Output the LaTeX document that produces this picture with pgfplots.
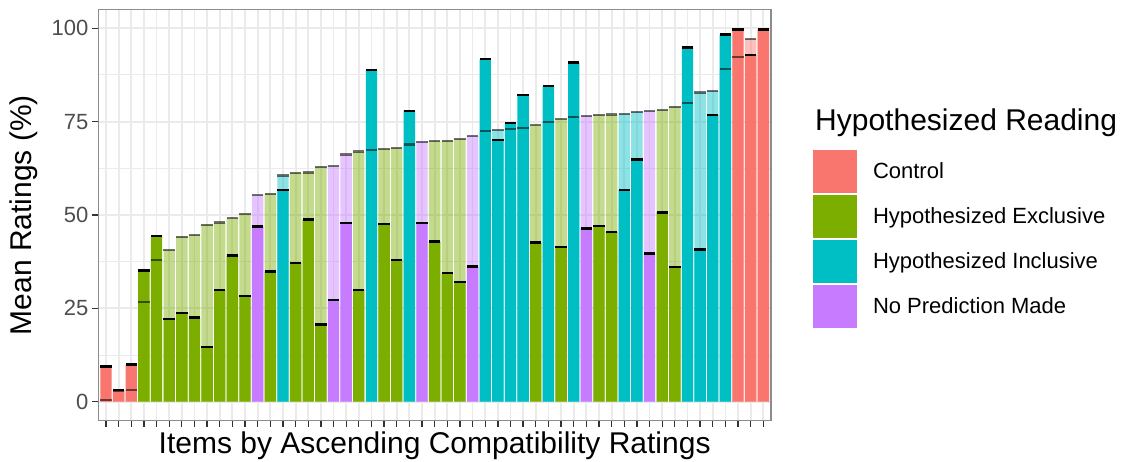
\documentclass[border=0pt]{standalone}
\usepackage{fontspec}
\setmainfont{Liberation Sans}
\usepackage{pgfplots}
\usepackage{pgfplotstable}
\pgfplotsset{compat=1.18}
\definecolor{cR}{HTML}{F8766D}
\definecolor{cG}{HTML}{7CAE00}
\definecolor{cC}{HTML}{00BFC4}
\definecolor{cP}{HTML}{C77CFF}
\definecolor{g92}{HTML}{EBEBEB}
\definecolor{g30}{HTML}{4D4D4D}
\definecolor{g20}{HTML}{333333}

% x = item rank, C = compatibility rating (light bar), T = rating for hypothesized reading (solid bar)
\pgfplotstableread{
x C T
1 0.4 9.4
2 2.9 3.2
3 3.1 10.0
51 92.4 99.7
52 97.1 92.9
53 99.6 99.7
}\ctrl
\pgfplotstableread{
x C T
4 26.8 35.1
5 37.9 44.4
6 40.6 22.1
7 44.2 23.7
8 44.6 22.5
9 47.4 14.6
10 48.0 29.9
11 49.1 39.2
12 50.3 28.3
14 55.7 34.9
16 61.3 37.1
17 61.4 48.8
18 62.9 20.7
21 67.0 29.9
23 67.7 47.6
24 68.0 37.9
27 69.8 42.9
28 69.9 34.4
29 70.4 32.0
35 74.0 42.6
37 75.6 41.5
40 76.8 47.1
41 76.9 45.4
45 78.1 50.7
46 79.0 36.0
}\excl
\pgfplotstableread{
x C T
15 60.6 56.7
22 67.4 88.8
25 68.9 77.9
31 72.4 91.7
32 72.8 70.1
33 73.1 74.6
34 73.4 82.1
36 75.0 84.6
38 76.3 90.8
42 77.1 56.7
43 77.6 64.9
47 79.9 94.9
48 82.8 40.8
49 83.2 76.8
50 89.0 98.3
}\incl
\pgfplotstableread{
x C T
13 55.3 46.9
19 63.1 27.2
20 66.2 47.9
26 69.6 47.9
30 71.2 36.2
39 76.5 46.4
44 77.8 39.7
}\nopred

\pgfplotsset{
  lightbar/.style={ybar, bar width=0.9, bar shift=0pt, draw=none, fill=#1, fill opacity=0.45, forget plot},
  solidbar/.style={ybar, bar width=0.9, bar shift=0pt, draw=none, fill=#1, forget plot},
  cmark/.style={only marks, mark=-, mark size=5.69pt, mark options={line width=2.2pt, draw=black, draw opacity=0.55}, forget plot},
  tmark/.style={only marks, mark=-, mark size=5.69pt, mark options={line width=2.4pt, draw=black}, forget plot},
}

\begin{document}
\begin{tikzpicture}
\begin{axis}[
  name=ax,
  scale only axis, width=672.5pt, height=410.8pt,
  xmin=0.4, xmax=53.6, ymin=-5, ymax=105,
  enlargelimits=false, clip=false,
  xtick={1,...,53}, xticklabels={},
  ytick={0,25,50,75,100},
  minor ytick={12.5,37.5,62.5,87.5},
  xmajorgrids, ymajorgrids, yminorgrids,
  major grid style={color=g92, line width=1.8pt},
  minor grid style={color=g92, line width=1.0pt},
  tick align=outside, tick pos=lower,
  major tick length=6.6pt, minor tick length=0pt,
  tick style={color=g20, line width=1.3pt},
  axis line style={color=black!45, line width=1.3pt},
  /pgf/number format/assume math mode=true,
  yticklabel style={font=\fontsize{22}{26}\selectfont, color=g30},
  ylabel={Mean Ratings (\%)},
  ylabel style={font=\fontsize{30}{36}\selectfont, at={(axis description cs:-0.1106,0.5)}, anchor=center},
  xlabel={Items by Ascending Compatibility Ratings},
  xlabel style={font=\fontsize{30}{36}\selectfont, at={(axis description cs:0.5,0)}, anchor=base, yshift=-33.5pt},
  legend image code/.code={\fill[#1] (0pt,-21.25pt) rectangle (44pt,21.25pt);},
  legend cell align=left,
  legend style={draw=none, fill=none, inner sep=0pt, outer sep=0pt,
    at={(axis description cs:1.0626,0.6582)}, anchor=north west,
    row sep=2.5pt, font=\fontsize{22}{26}\selectfont,
    nodes={inner sep=0pt},
    /tikz/every odd column/.append style={column sep=16pt}},
]
% light (compatibility) bars
\addplot[lightbar=cR] table[x=x,y=C]{\ctrl};
\addplot[lightbar=cG] table[x=x,y=C]{\excl};
\addplot[lightbar=cC] table[x=x,y=C]{\incl};
\addplot[lightbar=cP] table[x=x,y=C]{\nopred};
% solid bars
\addplot[solidbar=cR] table[x=x,y=T]{\ctrl};
\addplot[solidbar=cG] table[x=x,y=T]{\excl};
\addplot[solidbar=cC] table[x=x,y=T]{\incl};
\addplot[solidbar=cP] table[x=x,y=T]{\nopred};
% marks
\addplot[cmark] table[x=x,y=C]{\ctrl};
\addplot[cmark] table[x=x,y=C]{\excl};
\addplot[cmark] table[x=x,y=C]{\incl};
\addplot[cmark] table[x=x,y=C]{\nopred};
\addplot[tmark] table[x=x,y=T]{\ctrl};
\addplot[tmark] table[x=x,y=T]{\excl};
\addplot[tmark] table[x=x,y=T]{\incl};
\addplot[tmark] table[x=x,y=T]{\nopred};
% legend
\addlegendimage{fill=cR, draw=none}\addlegendentry{Control}
\addlegendimage{fill=cG, draw=none}\addlegendentry{Hypothesized Exclusive}
\addlegendimage{fill=cC, draw=none}\addlegendentry{Hypothesized Inclusive}
\addlegendimage{fill=cP, draw=none}\addlegendentry{No Prediction Made}
\node[anchor=base west, font=\fontsize{30}{36}\selectfont, inner sep=0pt] at (axis description cs:1.0656,0.7069) {Hypothesized Reading};
\end{axis}
\pgfresetboundingbox
\path (ax.south west) ++(-98.4pt,-41.6pt) rectangle ++(1126pt,462pt);
\end{tikzpicture}
\end{document}
